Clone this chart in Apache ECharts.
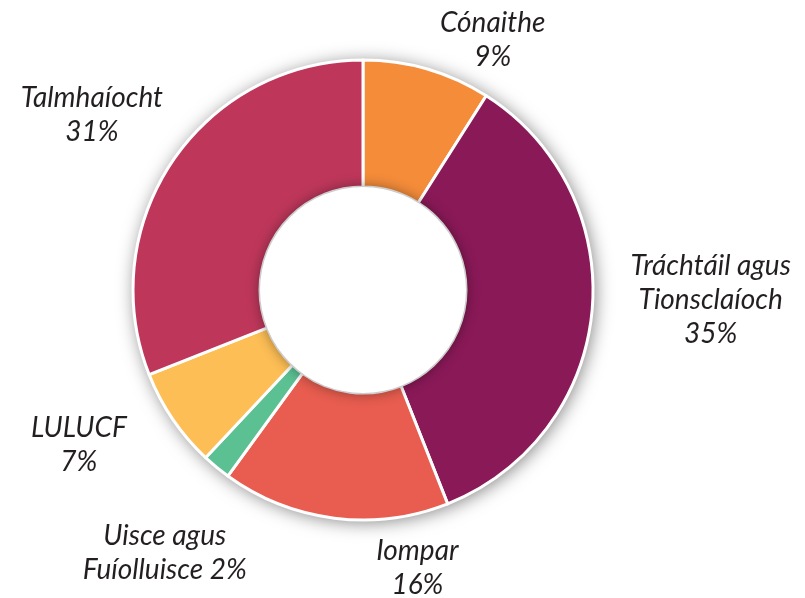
<!DOCTYPE html>
<html>
<head>
<meta charset="utf-8">
<script src="https://cdn.jsdelivr.net/npm/echarts@6/dist/echarts.min.js"></script>
<style>
  html, body { margin: 0; padding: 0; background: #ffffff; }
  #chart { width: 805px; height: 598px; }
</style>
</head>
<body>
<div id="chart"></div>
<script>
// earnálacha agus a gcion (%)
const sectors = ['Cónaithe', 'Tráchtáil agus\nTionsclaíoch', 'Iompar', 'Uisce agus\nFuíolluisce', 'LULUCF', 'Talmhaíocht'];
const shares = [9, 35, 16, 2, 7, 31];
const colours = ['#F48C3A', '#8A1958', '#E85D4F', '#5BC092', '#FDBE55', '#BE375B'];

// labels sit on a circle round the ring, then get nudged (dx, dy)
const labelRadius = 300;
const labelShift = [[46, 38], [49, -18], [92, -20], [-7, 32], [-36, -14], [-23, -6]];

const center = [363, 290];
const inner = 103;
const outer = 230;

// mid angle of every slice, degrees clockwise from 12 o'clock
const total = shares.reduce((a, b) => a + b, 0);
const midAngle = [];
let run = 0;
shares.forEach(v => {
  midAngle.push((run + v / 2) / total * 360);
  run += v;
});

const chart = echarts.init(document.getElementById('chart'));

chart.setOption({
  animation: false,
  series: [
    {
      // ring shadow underneath
      type: 'pie',
      silent: true,
      z: 1,
      center: center,
      radius: [inner, outer],
      label: { show: false },
      labelLine: { show: false },
      itemStyle: {
        color: '#ffffff',
        shadowBlur: 18,
        shadowOffsetX: 2,
        shadowOffsetY: 2,
        shadowColor: 'rgba(0,0,0,0.5)'
      },
      data: [1]
    },
    {
      type: 'pie',
      z: 2,
      center: center,
      radius: [inner, outer],
      startAngle: 90,
      clockwise: true,
      avoidLabelOverlap: false,
      itemStyle: {
        borderColor: '#ffffff',
        borderWidth: 3
      },
      label: {
        show: true,
        position: 'outside',
        fontFamily: 'Lato',
        fontStyle: 'italic',
        fontSize: 28,
        lineHeight: 34,
        color: '#231F20',
        formatter: p => p.name + (p.dataIndex === 3 ? ' ' : '\n') + Math.round(p.percent) + '%'
      },
      labelLine: { show: false },
      labelLayout: p => {
        const a = midAngle[p.dataIndex] * Math.PI / 180;
        const s = labelShift[p.dataIndex];
        return {
          x: center[0] + labelRadius * Math.sin(a) + s[0],
          y: center[1] - labelRadius * Math.cos(a) + s[1],
          align: 'center',
          verticalAlign: 'middle'
        };
      },
      data: sectors.map((name, i) => ({
        name: name,
        value: shares[i],
        itemStyle: { color: colours[i] }
      }))
    },
    {
      // white centre with its soft shadow on the ring
      type: 'pie',
      silent: true,
      z: 3,
      center: center,
      radius: [0, inner],
      label: { show: false },
      labelLine: { show: false },
      itemStyle: {
        color: '#ffffff',
        shadowBlur: 14,
        shadowColor: 'rgba(0,0,0,0.45)'
      },
      data: [1]
    }
  ]
});
</script>
</body>
</html>
